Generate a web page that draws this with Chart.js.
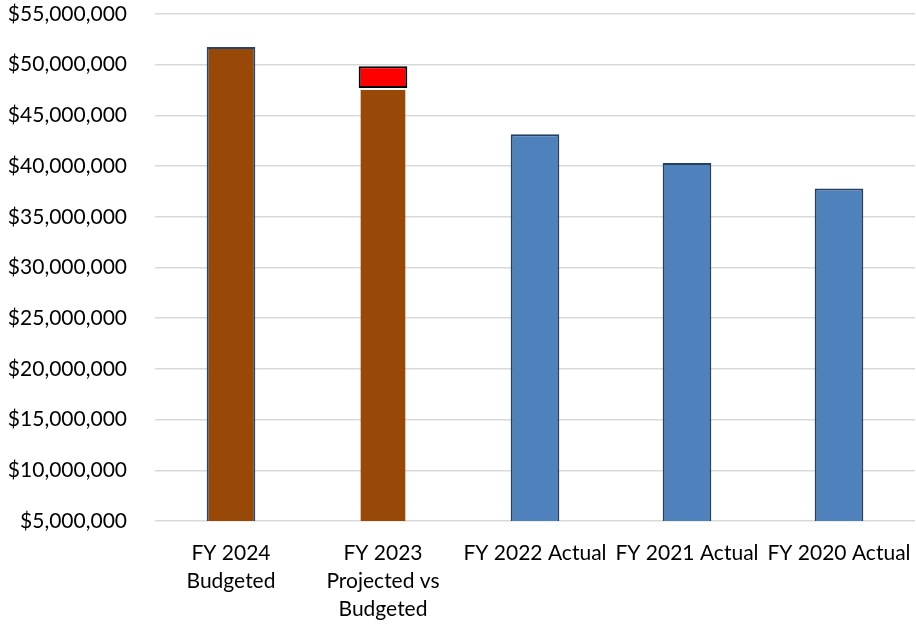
<!DOCTYPE html>
<html><head><meta charset="utf-8">
<script src="https://cdn.jsdelivr.net/npm/chart.js@4"></script>
<style>html,body{margin:0;padding:0;background:#fff}#wrap{width:916px;height:624px}</style>
</head><body><div id="wrap"><canvas id="c"></canvas></div>
<script>
const categories = [["FY 2024","Budgeted"],["FY 2023","Projected vs","Budgeted"],"FY 2022 Actual","FY 2021 Actual","FY 2020 Actual"];
const baseValues = [51750000, 47700000, 43150000, 40300000, 37800000];
const varianceValues = [null, 2150000, null, null, null];
const baseColors = ["#984807","#984807","#4F81BD","#4F81BD","#4F81BD"];
const baseBorders = ["#2B4466","rgba(0,0,0,0)","#243F60","#243F60","#243F60"];
const yTicks = [5000000,10000000,15000000,20000000,25000000,30000000,35000000,40000000,45000000,50000000,55000000];

function zeroPad(s) { s.paddingLeft = 0; s.paddingRight = 0; s.paddingTop = 0; s.paddingBottom = 0; }

new Chart(document.getElementById('c'), {
  type: 'bar',
  data: {
    labels: categories,
    datasets: [
      {data: baseValues, backgroundColor: baseColors, borderColor: baseBorders, borderWidth: 2, borderSkipped: false, barPercentage: 0.64, categoryPercentage: 0.5},
      {data: varianceValues, backgroundColor: "#FF0000", borderColor: "#000000", borderWidth: 2, borderSkipped: false, barPercentage: 0.64, categoryPercentage: 0.5}
    ]
  },
  options: {
    responsive: true, maintainAspectRatio: false, animation: false,
    layout: {padding: {top: 14, right: 1, left: 0, bottom: 0}},
    plugins: {legend: {display: false}, tooltip: {enabled: false}},
    scales: {
      x: {
        stacked: true,
        grid: {display: false},
        border: {display: false},
        ticks: {color: '#000', font: {family: 'Lato, "Noto Sans", sans-serif', size: 21, lineHeight: 1.33}, maxRotation: 0, autoSkip: false, padding: 10},
        afterFit: s => { s.height = 103; zeroPad(s); }
      },
      y: {
        stacked: true,
        min: 5000000, max: 55000000,
        afterBuildTicks: s => { s.ticks = yTicks.map(v => ({value: v})); },
        grid: {color: '#D9D9D9', lineWidth: 1.5, drawTicks: false},
        border: {display: false},
        ticks: {color: '#000', padding: 28, font: {family: 'Lato, "Noto Sans", sans-serif', size: 21},
          callback: v => '$' + Number(v).toLocaleString('en-US')},
        afterFit: s => { s.width = 155; zeroPad(s); }
      }
    }
  }
});
</script></body></html>
